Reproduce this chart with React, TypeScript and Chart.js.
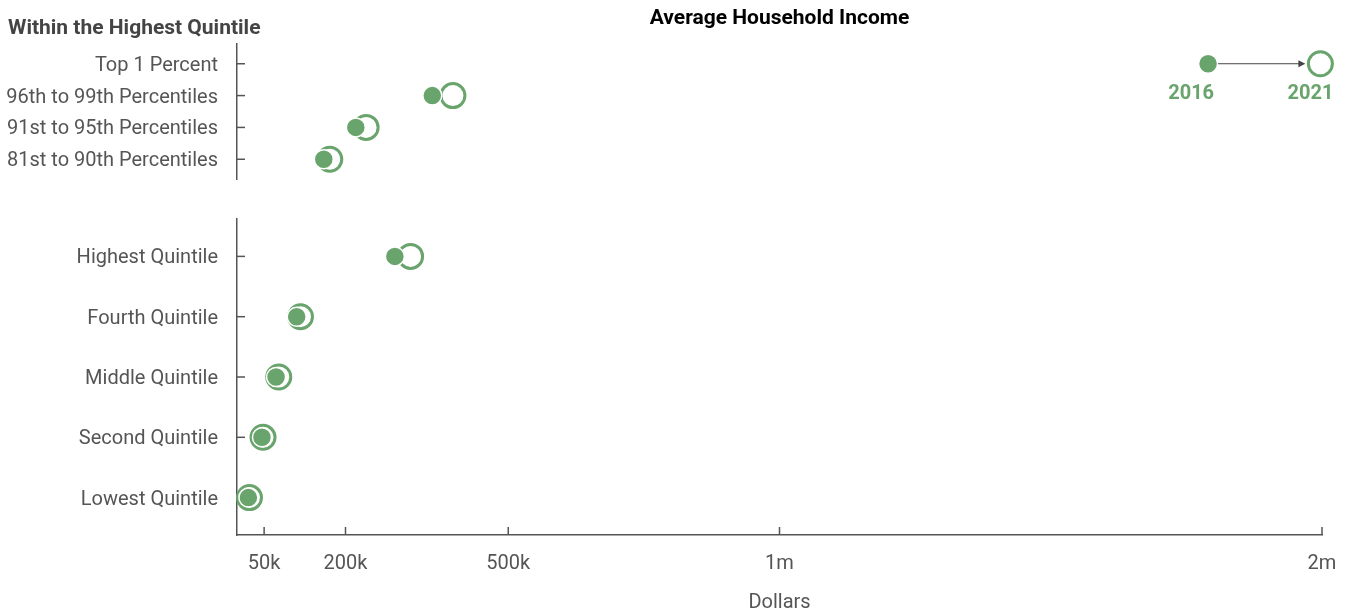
import React, { useEffect, useRef } from 'react';
import { Chart, registerables } from 'chart.js';

Chart.register(...registerables);

// ---------- data ----------
const topCategories = [
  'Top 1 Percent',
  '96th to 99th Percentiles',
  '91st to 95th Percentiles',
  '81st to 90th Percentiles',
];
const top2016 = [1790000, 360000, 219000, 160000];
const top2021 = [1997000, 398000, 238000, 171000];

const quintileCategories = [
  'Highest Quintile',
  'Fourth Quintile',
  'Middle Quintile',
  'Second Quintile',
  'Lowest Quintile',
];
const quintile2016 = [291000, 110000, 72000, 46000, 21000];
const quintile2021 = [320000, 117000, 77000, 48000, 23000];

const xTickValues = [50000, 200000, 500000, 1000000, 2000000];
const xTickLabels = ['50k', '200k', '500k', '1m', '2m'];
const seriesNames = ['2016', '2021'];

const chartTitle = 'Average Household Income';
const groupTitle = 'Within the Highest Quintile';
const xAxisTitle = 'Dollars';

// ---------- styles ----------
const GREEN = '#68a46b';
const AXIS = '#555555';
const TEXT = '#555555';
const FONT = 'Roboto';
const W = 1350;
const H = 616;

function makeConfig(
  categories: string[],
  v16: number[],
  v21: number[],
  isTop: boolean
): any {
  const pad = 0.62;
  const customPlugin = {
    id: 'custom' + (isTop ? 'Top' : 'Bottom'),
    beforeDatasetsDraw(chart: any) {
      const ctx = chart.ctx;
      const { left, bottom } = chart.chartArea;
      const xs = chart.scales.x;
      const ys = chart.scales.y;
      ctx.save();
      ctx.strokeStyle = AXIS;
      ctx.lineWidth = 1.5;
      categories.forEach((_, i) => {
        const y = ys.getPixelForValue(i);
        ctx.beginPath();
        ctx.moveTo(left, y);
        ctx.lineTo(left + 8, y);
        ctx.stroke();
      });
      if (!isTop) {
        xTickValues.forEach((v) => {
          const x = xs.getPixelForValue(v);
          ctx.beginPath();
          ctx.moveTo(x, bottom);
          ctx.lineTo(x, bottom - 8);
          ctx.stroke();
        });
      }
      ctx.restore();
    },
    afterDraw(chart: any) {
      const ctx = chart.ctx;
      const { left, right } = chart.chartArea;
      const xs = chart.scales.x;
      const ys = chart.scales.y;
      ctx.save();
      if (isTop) {
        ctx.fillStyle = '#444444';
        ctx.font = `bold 21px ${FONT}`;
        ctx.textAlign = 'left';
        ctx.textBaseline = 'middle';
        ctx.fillText(groupTitle, 8, 29);

        ctx.fillStyle = '#000000';
        ctx.font = `bold 21px ${FONT}`;
        ctx.textAlign = 'center';
        ctx.fillText(chartTitle, (left + right) / 2, 19);

        // arrow for the first row
        const y0 = ys.getPixelForValue(0);
        const xa = xs.getPixelForValue(v16[0]);
        const xb = xs.getPixelForValue(v21[0]);
        const x1 = xa + 10;
        const x2 = xb - 15;
        ctx.strokeStyle = '#444444';
        ctx.fillStyle = '#444444';
        ctx.lineWidth = 1;
        ctx.beginPath();
        ctx.moveTo(x1, y0);
        ctx.lineTo(x2 - 5, y0);
        ctx.stroke();
        ctx.beginPath();
        ctx.moveTo(x2, y0);
        ctx.lineTo(x2 - 7, y0 - 3.5);
        ctx.lineTo(x2 - 7, y0 + 3.5);
        ctx.closePath();
        ctx.fill();

        ctx.fillStyle = GREEN;
        ctx.font = `bold 20px ${FONT}`;
        ctx.textAlign = 'right';
        ctx.textBaseline = 'middle';
        ctx.fillText(seriesNames[0], xa + 6, y0 + 30);
        ctx.fillText(seriesNames[1], xb + 13, y0 + 30);
      } else {
        ctx.fillStyle = TEXT;
        ctx.font = `20px ${FONT}`;
        ctx.textAlign = 'center';
        ctx.textBaseline = 'middle';
        ctx.fillText(xAxisTitle, (left + right) / 2, 603);
      }
      ctx.restore();
    },
  };

  return {
    type: 'scatter',
    data: {
      datasets: [
        {
          label: seriesNames[0],
          data: v16.map((v, i) => ({ x: v, y: i })),
          backgroundColor: GREEN,
          borderColor: '#ffffff',
          borderWidth: 1.5,
          pointRadius: 9.5,
          order: 0,
          clip: false,
        },
        {
          label: seriesNames[1],
          data: v21.map((v, i) => ({ x: v, y: i })),
          backgroundColor: '#ffffff',
          borderColor: GREEN,
          borderWidth: 3,
          pointRadius: 12,
          order: 1,
          clip: false,
        },
      ],
    },
    options: {
      responsive: false,
      animation: false,
      events: [],
      layout: {
        padding: {
          left: 0,
          right: 28,
          top: isTop ? 44 : 219,
          bottom: isTop ? H - 179 : 0,
        },
      },
      plugins: {
        legend: { display: false },
        tooltip: { enabled: false },
        title: { display: false },
      },
      scales: {
        x: {
          type: 'linear',
          display: !isTop,
          min: 0,
          max: 2000000,
          afterBuildTicks: (s: any) => {
            s.ticks = xTickValues.map((v) => ({ value: v }));
          },
          afterFit: (s: any) => {
            if (!isTop) s.height = 81;
            s.paddingLeft = 0;
            s.paddingRight = 0;
          },
          grid: { display: false, drawTicks: false },
          border: { display: true, color: AXIS, width: 1.5 },
          ticks: {
            autoSkip: false,
            maxRotation: 0,
            padding: 17,
            color: TEXT,
            font: { family: FONT, size: 20 },
            callback: (v: number) => xTickLabels[xTickValues.indexOf(v)],
          },
        },
        y: {
          type: 'linear',
          reverse: true,
          min: -pad,
          max: categories.length - 1 + pad,
          afterBuildTicks: (s: any) => {
            s.ticks = categories.map((_, i) => ({ value: i }));
          },
          afterFit: (s: any) => {
            s.width = 237;
          },
          grid: { display: false, drawTicks: false },
          border: { display: true, color: AXIS, width: 1.5 },
          ticks: {
            autoSkip: false,
            padding: 19,
            labelOffset: 2,
            color: TEXT,
            font: { family: FONT, size: 20 },
            callback: (v: number) => categories[v],
          },
        },
      },
    },
    plugins: [customPlugin],
  };
}

export default function App() {
  const topRef = useRef<HTMLCanvasElement | null>(null);
  const bottomRef = useRef<HTMLCanvasElement | null>(null);

  useEffect(() => {
    const c1 = new Chart(topRef.current as HTMLCanvasElement, makeConfig(topCategories, top2016, top2021, true));
    const c2 = new Chart(
      bottomRef.current as HTMLCanvasElement,
      makeConfig(quintileCategories, quintile2016, quintile2021, false)
    );
    return () => {
      c1.destroy();
      c2.destroy();
    };
  }, []);

  const canvasStyle: React.CSSProperties = {
    position: 'absolute',
    left: 0,
    top: 0,
    width: W,
    height: H,
  };

  return (
    <div style={{ position: 'fixed', left: 0, top: 0, width: W, height: H, background: '#ffffff' }}>
      <canvas ref={bottomRef} width={W} height={H} style={canvasStyle} />
      <canvas ref={topRef} width={W} height={H} style={canvasStyle} />
    </div>
  );
}
